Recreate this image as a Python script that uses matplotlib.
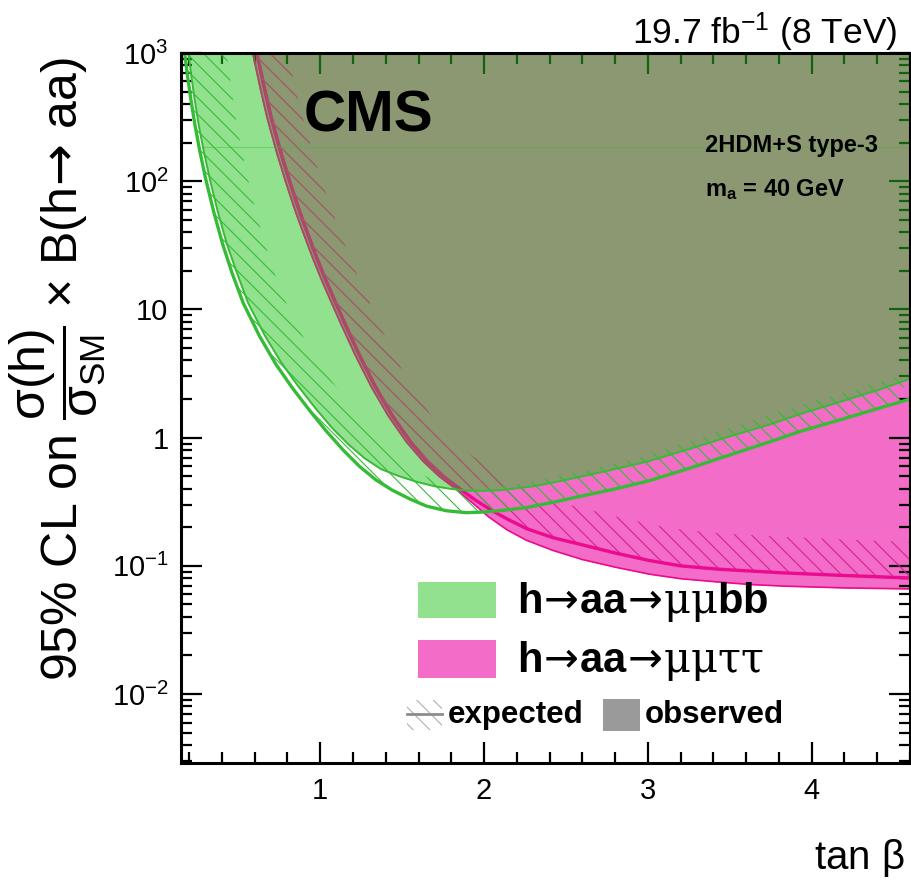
import numpy as np
import matplotlib
matplotlib.use('Agg')
import matplotlib.pyplot as plt
from matplotlib.patches import Polygon, Rectangle
from matplotlib.ticker import FixedLocator, FixedFormatter, MultipleLocator, LogLocator, NullFormatter

plt.rcParams.update({
    'font.family': ['Liberation Sans', 'DejaVu Sans'],
    'mathtext.fontset': 'custom',
    'mathtext.rm': 'Liberation Sans',
    'mathtext.it': 'Liberation Sans:italic',
    'mathtext.bf': 'Liberation Sans:bold',
    'mathtext.cal': 'DejaVu Serif',
    'mathtext.sf': 'DejaVu Sans',
    'mathtext.default': 'rm',
    'hatch.linewidth': 0.8,
})

# h -> aa -> mu mu b b : expected / observed 95% CL limits vs tan(beta)
bb_exp_x = [0.172, 0.19, 0.21, 0.235, 0.264, 0.30, 0.35, 0.404, 0.46, 0.53, 0.63, 0.73, 0.831, 0.94,
            1.038, 1.14, 1.24, 1.34, 1.44, 1.55, 1.65, 1.77, 1.89, 2.0, 2.13, 2.26, 2.42, 2.58,
            2.8, 3.01, 3.25, 3.5, 3.75, 3.92, 4.2, 4.4, 4.6]
bb_exp_y = [1000, 661, 437, 275, 174, 105, 57.5, 32.4, 19.5, 11.2, 6.17, 3.72, 2.43, 1.60,
            1.12, 0.80, 0.596, 0.468, 0.389, 0.331, 0.292, 0.269, 0.260, 0.263, 0.272, 0.285, 0.313, 0.347,
            0.398, 0.462, 0.575, 0.733, 0.933, 1.109, 1.41, 1.68, 2.0]
bb_obs_x = [0.195, 0.213, 0.233, 0.258, 0.288, 0.325, 0.375, 0.43, 0.49, 0.56, 0.66, 0.76, 0.86, 0.97,
            1.07, 1.17, 1.27, 1.37, 1.48, 1.59, 1.70, 1.80, 1.90, 2.0, 2.1, 2.3, 2.5, 2.75,
            3.0, 3.25, 3.5, 3.75, 3.92, 4.2, 4.4, 4.6]
bb_obs_y = [1000, 661, 437, 275, 174, 105, 57.5, 32.4, 19.5, 11.2, 6.31, 3.89, 2.57, 1.70,
            1.20, 0.891, 0.692, 0.569, 0.501, 0.452, 0.417, 0.398, 0.386, 0.385, 0.389, 0.417, 0.468, 0.550,
            0.653, 0.813, 1.023, 1.274, 1.514, 1.95, 2.34, 2.88]

# h -> aa -> mu mu tau tau
tt_exp_x = [0.613, 0.66, 0.70, 0.76, 0.813, 0.87, 0.92, 0.98, 1.04, 1.14, 1.24, 1.34, 1.44, 1.55,
            1.65, 1.75, 1.85, 1.95, 2.05, 2.15, 2.26, 2.42, 2.58, 2.8, 3.01, 3.2, 3.42, 3.62,
            3.83, 4.2, 4.6]
tt_exp_y = [1000, 525, 316, 166, 100, 60, 40, 25, 16.2, 8.3, 4.37, 2.45, 1.48, 0.93,
            0.66, 0.50, 0.40, 0.324, 0.269, 0.229, 0.195, 0.166, 0.148, 0.126, 0.110, 0.100, 0.0944, 0.0912,
            0.0881, 0.0841, 0.0804]
tt_obs_x = [0.588, 0.635, 0.675, 0.735, 0.788, 0.845, 0.895, 0.955, 1.015, 1.115, 1.215, 1.315, 1.415, 1.525,
            1.625, 1.725, 1.825, 1.93, 2.03, 2.14, 2.26, 2.42, 2.6, 2.8, 3.01, 3.2, 3.42, 3.62,
            3.83, 4.2, 4.6]
tt_obs_y = [1000, 525, 316, 166, 100, 60, 40, 25, 16.2, 8.3, 4.37, 2.45, 1.48, 0.93,
            0.66, 0.50, 0.40, 0.309, 0.240, 0.191, 0.158, 0.132, 0.112, 0.0977, 0.0861, 0.0794, 0.075, 0.0716,
            0.0695, 0.0673, 0.0661]

x_ticks = [1, 2, 3, 4]
y_ticks = [1e-2, 1e-1, 1, 10, 1e2, 1e3]
y_tick_labels = [r'$10^{-2}$', r'$10^{-1}$', '1', '10', r'$10^{2}$', r'$10^{3}$']
X_RANGE = (0.15, 4.6)
Y_RANGE = (0.0029, 1000)
SEAM_Y = 185  # polygon seam left in the mu mu b b fill

GREEN_LINE = '#36bb36'
GREEN_FILL = '#26c41e'
PINK_LINE = '#ec0a8e'
PINK_FILL = '#f26cc8'
PINK_HATCH = '#d81f93'
PINK_UNDER = '#b0466a'   # pink line seen through the green fill
PINK_HATCH_UNDER = '#a65a6c'


def hatch_band(ax, x, y, wx, wy, color, zorder):
    # ROOT-style hatched limit line: a strip on the excluded side of the curve
    pts = ax.transData.transform(np.column_stack([x, y]))
    d = np.gradient(pts, axis=0)
    d /= np.hypot(d[:, 0], d[:, 1])[:, None]
    normal = np.column_stack([-d[:, 1], d[:, 0]])
    off = pts + normal * np.array([wx, wy])
    poly = ax.transData.inverted().transform(np.vstack([pts, off[::-1]]))
    patch = Polygon(poly, closed=True, facecolor='none', edgecolor=color,
                    hatch='\\\\', lw=0, zorder=zorder)
    ax.add_patch(patch)
    return patch


fig = plt.figure(figsize=(9.12, 8.83), dpi=100)
ax = fig.add_axes([181 / 912, 120 / 883, 729 / 912, 710 / 883])
ax.set_yscale('log')
ax.set_xlim(*X_RANGE)
ax.set_ylim(*Y_RANGE)

# mu mu tau tau: observed excluded region, expected hatched line
ax.fill_between(tt_obs_x, tt_obs_y, 1e4, color=PINK_FILL, lw=0, zorder=1)
ax.plot(tt_obs_x, tt_obs_y, color=PINK_LINE, lw=1.2, zorder=2)
hatch_band(ax, tt_exp_x, tt_exp_y, 30, 36, PINK_HATCH, 2)
ax.plot(tt_exp_x, tt_exp_y, color=PINK_LINE, lw=2.4, zorder=2)

# mu mu b b drawn translucent on top
green = ax.fill_between(bb_obs_x, bb_obs_y, 1e4, color=GREEN_FILL, alpha=0.5, lw=0, zorder=3)
green_clip = (green.get_paths()[0], green.get_transform())

# pink limits where they sit under the green region
under = [ax.plot(tt_obs_x, tt_obs_y, color=PINK_UNDER, lw=1.2, zorder=3.1)[0],
         ax.plot(tt_exp_x, tt_exp_y, color=PINK_UNDER, lw=2.4, zorder=3.1)[0],
         hatch_band(ax, tt_exp_x, tt_exp_y, 30, 36, PINK_HATCH_UNDER, 3.1)]
for art in under:
    art.set_clip_path(*green_clip)

seam = ax.axhline(SEAM_Y, color=GREEN_LINE, lw=0.8, alpha=0.4, zorder=3.2)
seam.set_clip_path(*green_clip)
hatch_band(ax, bb_exp_x, bb_exp_y, 42, 24, GREEN_LINE, 4)
ax.plot(bb_obs_x, bb_obs_y, color=GREEN_LINE, lw=1.4, zorder=4)
ax.plot(bb_exp_x, bb_exp_y, color=GREEN_LINE, lw=2.4, zorder=4)

# axes styling
ax.xaxis.set_major_locator(FixedLocator(x_ticks))
ax.xaxis.set_minor_locator(MultipleLocator(0.2))
ax.yaxis.set_major_locator(FixedLocator(y_ticks))
ax.yaxis.set_major_formatter(FixedFormatter(y_tick_labels))
ax.yaxis.set_minor_locator(LogLocator(base=10, subs=np.arange(2, 10)))
ax.yaxis.set_minor_formatter(NullFormatter())
ax.tick_params(which='both', direction='in', top=True, right=True, width=1.6, labelsize=21)
ax.tick_params(which='major', length=15)
ax.tick_params(which='minor', length=8)
ax.tick_params(axis='x', pad=10)
ax.tick_params(axis='y', pad=9)
for s in ax.spines.values():
    s.set_linewidth(2.2)
    s.set_zorder(6)

# labels
fig.text(58 / 912, 1 - 57 / 883,
         r'95% CL on $\dfrac{\sigma(h)}{\sigma_{SM}}$ $\times$ B(h$\!\mathsf{\rightarrow}\!$ aa)',
         rotation=90, ha='center', va='top', fontsize=36)
fig.text(905 / 912, 1 - 858 / 883, r'tan $\beta$', ha='right', va='center', fontsize=29)
fig.text(897 / 912, 1 - 32 / 883, r'19.7 fb$^{-1}$ (8 TeV)', ha='right', va='center', fontsize=25.5)

ax.text(0.2565, 0.911, 'CMS', transform=ax.transAxes, ha='center', va='center',
        fontsize=42, fontweight='bold', zorder=7)
ax.text(0.719, 0.870, '2HDM+S type-3', transform=ax.transAxes, ha='left', va='center',
        fontsize=17, fontweight='bold', zorder=7)
ax.text(0.719, 0.807, r'm$_{\mathbf{a}}$ = 40 GeV', transform=ax.transAxes, ha='left', va='center',
        fontsize=17, fontweight='bold', zorder=7)

# legend
ax.add_patch(Rectangle((0.325, 0.204), 0.107, 0.051, transform=ax.transAxes,
                       facecolor=GREEN_FILL, alpha=0.5, lw=0, zorder=7))
ax.add_patch(Rectangle((0.325, 0.120), 0.107, 0.053, transform=ax.transAxes,
                       facecolor=PINK_FILL, lw=0, zorder=7))
ax.text(0.461, 0.211, r'h$\!\mathsf{\rightarrow}\!$aa$\!\mathsf{\rightarrow}\!\mathcal{\mu\mu}$bb',
        transform=ax.transAxes, ha='left', va='baseline', fontsize=30, fontweight='bold', zorder=7)
ax.text(0.461, 0.128, r'h$\!\mathsf{\rightarrow}\!$aa$\!\mathsf{\rightarrow}\!\mathcal{\mu\mu\tau\tau}$',
        transform=ax.transAxes, ha='left', va='baseline', fontsize=30, fontweight='bold', zorder=7)

ax.add_patch(Rectangle((0.310, 0.047), 0.048, 0.042, transform=ax.transAxes,
                       facecolor='none', edgecolor='#b0b0b0', hatch='\\\\', lw=0, zorder=7))
ax.plot([0.310, 0.358], [0.069, 0.069], transform=ax.transAxes, color='#8c8c8c', lw=2, zorder=7)
ax.text(0.366, 0.056, 'expected', transform=ax.transAxes, ha='left', va='baseline',
        fontsize=22.5, fontweight='bold', zorder=7)
ax.add_patch(Rectangle((0.579, 0.045), 0.051, 0.045, transform=ax.transAxes,
                       facecolor='#9a9a9a', lw=0, zorder=7))
ax.text(0.6365, 0.056, 'observed', transform=ax.transAxes, ha='left', va='baseline',
        fontsize=22.5, fontweight='bold', zorder=7)

fig.savefig('out.png', dpi=100)
